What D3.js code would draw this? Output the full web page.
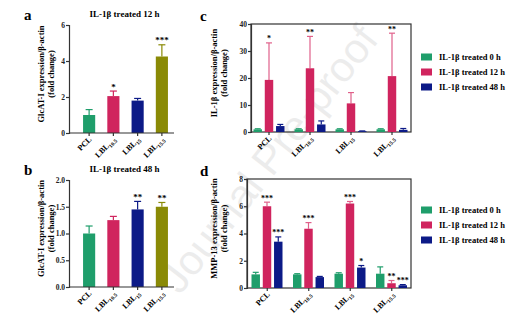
<!DOCTYPE html>
<html>
<head>
<meta charset="utf-8">
<script src="https://cdn.jsdelivr.net/npm/d3@7"></script>
<style>
  body { margin: 0; background: #fff; }
  svg text { font-family: "Liberation Serif", "DejaVu Serif", serif; font-weight: bold; }
</style>
</head>
<body>
<svg width="532" height="328"></svg>
<script>
// categories (name + subscript)
const categories = ['PCL', 'LBL10.5', 'LBL15', 'LBL15.5'];
const catLabels = [['PCL', ''], ['LBL', '10.5'], ['LBL', '15'], ['LBL', '15.5']];
const barColors = ['#1f9e6b', '#d0245e', '#0c1a87', '#8a8a06'];

// panel a: GlcAT-I, IL-1β treated 12 h
const aValues = [1.0, 2.05, 1.8, 4.25];
const aErrors = [0.3, 0.28, 0.12, 0.65];
const aStars = ['', '*', '', '***'];
const aTicks = [0, 2, 4, 6];

// panel b: GlcAT-I, IL-1β treated 48 h
const bValues = [1.0, 1.25, 1.45, 1.5];
const bErrors = [0.14, 0.07, 0.15, 0.08];
const bStars = ['', '', '**', '**'];
const bTicks = [0, 0.5, 1.0, 1.5, 2.0];

// grouped series (c, d)
const seriesNames = ['IL-1β treated 0 h', 'IL-1β treated 12 h', 'IL-1β treated 48 h'];
const seriesColors = ['#1f9e6b', '#d0245e', '#0c1a87'];

// panel c: IL-1β expression
const c0h = [1.0, 1.0, 1.0, 1.0];
const c12h = [19.3, 23.6, 10.6, 20.7];
const c48h = [2.2, 2.8, 0.3, 0.8];
const c0hErr = [0.2, 0.2, 0.2, 0.2];
const c12hErr = [13.7, 11.8, 4.0, 15.9];
const c48hErr = [0.6, 1.3, 0.1, 0.5];
const c12hStars = ['*', '**', '', '**'];
const cTicks = [0, 10, 20, 30, 40];

// panel d: MMP-13 expression
const d0h = [1.0, 1.0, 1.05, 1.05];
const d12h = [6.0, 4.35, 6.2, 0.35];
const d48h = [3.4, 0.8, 1.5, 0.2];
const d0hErr = [0.15, 0.05, 0.07, 0.5];
const d12hErr = [0.3, 0.45, 0.15, 0.2];
const d48hErr = [0.35, 0.05, 0.15, 0.05];
const d12hStars = ['***', '***', '***', '**'];
const d48hStars = ['***', '', '*', '***'];
const dTicks = [0, 2, 4, 6, 8];

const svg = d3.select('svg');

// watermark
svg.append('text')
    .attr('transform', 'translate(280,168) rotate(-52)')
    .attr('text-anchor', 'middle')
    .style('font-family', '"Liberation Sans", sans-serif')
    .style('font-weight', 'normal')
    .style('font-size', '42px')
    .attr('fill', '#000')
    .attr('opacity', 0.07)
    .text('Journal Pre-proof');

function xLabel(g, x, y, lab) {
    const t = g.append('text')
        .attr('transform', `translate(${x},${y}) rotate(-45)`)
        .attr('text-anchor', 'end')
        .style('font-size', '8px')
        .text(lab[0]);
    if (lab[1]) {
        t.append('tspan').attr('dy', 2).style('font-size', '5.5px').text(lab[1]);
    }
}

function yAxis(g, y, ticks, x0, fmt) {
    g.append('g')
        .attr('transform', `translate(${x0},0)`)
        .call(d3.axisLeft(y).tickValues(ticks).tickSize(3).tickPadding(1).tickFormat(fmt))
        .call(a => a.selectAll('text').style('font-size', '7.5px').attr('fill', '#222'))
        .call(a => a.selectAll('path,line').attr('stroke', '#333').attr('stroke-width', 1.2));
}

function yTitle(g, cx, cy, line1) {
    const t = g.append('text')
        .attr('transform', `translate(${cx},${cy}) rotate(-90)`)
        .attr('text-anchor', 'middle')
        .style('font-size', '8.5px');
    t.append('tspan').attr('x', 0).attr('dy', 0).text(line1);
    t.append('tspan').attr('x', 0).attr('dy', 10).text('(fold change)');
}

function errBar(g, cx, yTop, yVal, color, cap) {
    g.append('line').attr('x1', cx).attr('x2', cx).attr('y1', yVal).attr('y2', yTop)
        .attr('stroke', color).attr('stroke-width', 1.2);
    g.append('line').attr('x1', cx - cap).attr('x2', cx + cap).attr('y1', yTop).attr('y2', yTop)
        .attr('stroke', color).attr('stroke-width', 1.2);
}

function simplePanel(opt) {
    const g = svg.append('g');
    const x = d3.scaleBand().domain(categories).range(opt.xr).paddingInner(0.5).paddingOuter(0.25);
    const y = d3.scaleLinear().domain([0, opt.ticks[opt.ticks.length - 1]]).range(opt.yr);

    categories.forEach((c, i) => {
        const v = opt.values[i], e = opt.errors[i];
        const cx = x(c) + x.bandwidth() / 2;
        errBar(g, cx, y(v + e), y(v), barColors[i], 3.5);
        g.append('rect')
            .attr('x', x(c)).attr('width', x.bandwidth())
            .attr('y', y(v)).attr('height', y(0) - y(v))
            .attr('fill', barColors[i]);
        if (opt.stars[i]) {
            g.append('text').attr('x', cx).attr('y', y(v + e) - 1.5)
                .attr('text-anchor', 'middle').style('font-size', '9px').text(opt.stars[i]);
        }
        g.append('line').attr('x1', cx).attr('x2', cx).attr('y1', y(0)).attr('y2', y(0) + 3)
            .attr('stroke', '#333').attr('stroke-width', 1.2);
        xLabel(g, cx + 3, y(0) + 7, catLabels[i]);
    });
    g.append('line').attr('x1', opt.axisX).attr('x2', opt.xr[1]).attr('y1', y(0)).attr('y2', y(0))
        .attr('stroke', '#333').attr('stroke-width', 1.2);
    yAxis(g, y, opt.ticks, opt.axisX, opt.fmt);
    yTitle(g, opt.titleX, (opt.yr[0] + opt.yr[1]) / 2 - 5, opt.yLabel);
    g.append('text').attr('x', (opt.axisX + opt.xr[1]) / 2 + 3).attr('y', opt.yr[1] - 8)
        .attr('text-anchor', 'middle').style('font-size', '9px').text(opt.title);
    g.append('text').attr('x', 24).attr('y', opt.yr[1] - 5)
        .style('font-size', '15px').text(opt.letter);
}

function groupedPanel(opt) {
    const g = svg.append('g');
    const x = d3.scaleBand().domain(categories).range(opt.xr);
    const xi = d3.scaleBand().domain(seriesNames).range([5, 36]).paddingInner(0.25);
    const y = d3.scaleLinear().domain([0, opt.ticks[opt.ticks.length - 1]]).range(opt.yr);

    // frame
    g.append('rect').attr('x', opt.axisX).attr('y', opt.yr[1])
        .attr('width', opt.rightX - opt.axisX).attr('height', opt.yr[0] - opt.yr[1])
        .attr('fill', 'none').attr('stroke', '#333').attr('stroke-width', 1.2);

    categories.forEach((c, i) => {
        seriesNames.forEach((s, j) => {
            const v = opt.values[j][i], e = opt.errors[j][i];
            const bx = x(c) + xi(s);
            const cx = bx + xi.bandwidth() / 2;
            const col = seriesColors[j];
            errBar(g, cx, y(v + e), y(v), j === 1 ? '#e0608a' : col, 3);
            g.append('rect')
                .attr('x', bx).attr('width', xi.bandwidth())
                .attr('y', y(v)).attr('height', y(0) - y(v))
                .attr('fill', col);
            const st = opt.stars[j][i];
            if (st) {
                g.append('text').attr('x', cx).attr('y', y(v + e) - 1.5)
                    .attr('text-anchor', 'middle').style('font-size', '8px').text(st);
            }
        });
        const gx = x(c) + x.bandwidth() / 2;
        g.append('line').attr('x1', gx).attr('x2', gx).attr('y1', y(0)).attr('y2', y(0) + 3)
            .attr('stroke', '#333').attr('stroke-width', 1.2);
        xLabel(g, gx + 3, y(0) + 7, catLabels[i]);
    });
    yAxis(g, y, opt.ticks, opt.axisX, d3.format('d'));
    yTitle(g, opt.titleX, (opt.yr[0] + opt.yr[1]) / 2 - 5, opt.yLabel);
    g.append('text').attr('x', 200).attr('y', opt.yr[1] - 3)
        .style('font-size', '15px').text(opt.letter);

    // legend
    const lg = g.append('g');
    seriesNames.forEach((s, j) => {
        const ly = opt.legendY + j * 15;
        lg.append('rect').attr('x', 421).attr('y', ly - 3.5).attr('width', 11).attr('height', 7)
            .attr('fill', seriesColors[j]);
        lg.append('text').attr('x', 439).attr('y', ly + 3).style('font-size', '8.5px').text(s);
    });
}

simplePanel({ values: aValues, errors: aErrors, stars: aStars, ticks: aTicks,
    xr: [77, 174], yr: [133, 25], axisX: 69, titleX: 44, fmt: d3.format('d'),
    yLabel: 'GlcAT-I expression/β-actin', title: 'IL-1β treated 12 h', letter: 'a' });
simplePanel({ values: bValues, errors: bErrors, stars: bStars, ticks: bTicks,
    xr: [77, 174], yr: [287, 180], axisX: 69, titleX: 44, fmt: d3.format('.1f'),
    yLabel: 'GlcAT-I expression/β-actin', title: 'IL-1β treated 48 h', letter: 'b' });

groupedPanel({ values: [c0h, c12h, c48h], errors: [c0hErr, c12hErr, c48hErr],
    stars: [['', '', '', ''], c12hStars, ['', '', '', '']], ticks: cTicks,
    xr: [248.5, 412.5], yr: [132, 24], axisX: 251, rightX: 411, titleX: 217,
    yLabel: 'IL-1β expression/β-actin', letter: 'c', legendY: 57 });
groupedPanel({ values: [d0h, d12h, d48h], errors: [d0hErr, d12hErr, d48hErr],
    stars: [['', '', '', ''], d12hStars, d48hStars], ticks: dTicks,
    xr: [246.5, 412.5], yr: [288, 179], axisX: 247, rightX: 411, titleX: 217,
    yLabel: 'MMP-13 expression/β-actin', letter: 'd', legendY: 210 });
</script>
</body>
</html>
